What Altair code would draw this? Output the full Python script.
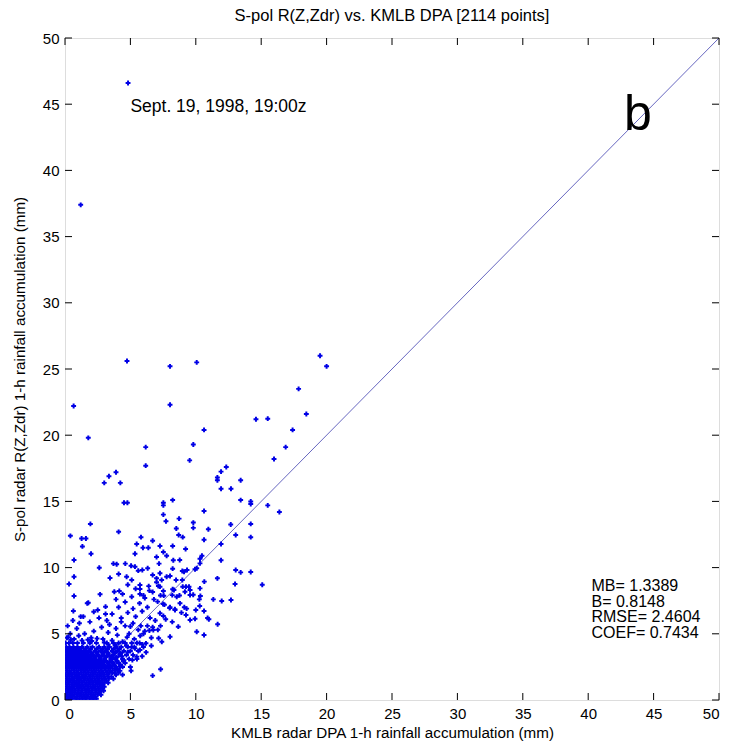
import altair as alt
import pandas as pd

# ---- scattered points (KMLB DPA x, S-pol y), mm ----
dpa_high = [4.82, 1.2, 4.74, 8.03, 10.07, 19.5, 20.0, 0.66, 8.03, 17.86, 1.78, 10.63, 14.6, 15.5,
            17.4, 18.45, 6.17, 9.81, 16.87, 9.53, 15.98, 6.17, 12.33, 11.93, 3.9, 3.36, 11.65,
            11.65, 13.43, 3.0, 4.23, 11.93, 12.69, 4.51, 4.77, 7.52, 7.52, 8.23, 13.43, 14.2, 14.2,
            15.5, 16.39, 10.63, 7.52, 7.72, 8.72, 1.94, 9.81, 9.81, 8.51, 10.96, 12.67, 14.2, 4.1,
            0.41, 13.05, 1.27, 1.6, 5.81, 9.0, 14.2, 10.63, 8.69, 6.7]
spol_high = [46.6, 37.4, 25.6, 25.2, 25.5, 26.0, 25.2, 22.2, 22.3, 23.5, 19.8, 20.4, 21.2, 21.25,
             20.4, 21.6, 19.1, 19.3, 19.1, 18.1, 18.2, 17.7, 17.6, 17.25, 17.2, 16.9, 16.8,
             16.6, 16.6, 16.4, 16.4, 15.96, 15.96, 14.9, 14.9, 14.9, 14.7, 15.1, 15.1, 15.0, 14.8,
             14.7, 14.2, 14.27, 14.0, 13.5, 13.7, 13.3, 13.4, 13.0, 12.95, 12.9, 13.25, 13.3, 12.7,
             12.4, 12.46, 12.2, 12.2, 12.3, 12.3, 12.3, 12.1, 12.46, 12.03]

dpa_mid = [1.33, 1.99, 0.69, 5.48, 6.37, 5.96, 5.35, 7.0, 7.77, 8.28, 7.19, 8.77, 9.22, 10.47,
           11.93, 11.93, 7.26, 8.23, 7.52, 10.32, 3.7, 3.95, 4.61, 5.05, 5.35, 5.6, 5.91, 6.32,
           2.62, 0.31, 0.69, 3.44, 4.1, 4.71, 5.1, 6.7, 7.0, 7.39, 7.77, 9.1, 9.33, 9.94, 10.07,
           10.32, 8.23, 8.97, 7.26, 8.03, 8.49, 8.97, 10.65, 11.65, 13.05, 13.43, 14.2, 13.0,
           15.08, 5.73, 5.73, 5.73, 3.77, 4.15, 2.68, 0.69, 1.78, 0.64, 6.45, 6.7, 7.14, 7.52,
           8.33, 8.54, 9.0, 9.17, 9.48, 9.56, 10.27, 10.63, 11.34, 11.98, 12.69, 11.67, 10.07,
           10.63, 7.08, 7.26, 7.52, 8.03, 8.41, 8.79, 9.12, 9.25, 9.56, 9.94, 8.66, 8.03, 7.16,
           6.75, 6.19, 5.73, 7.31, 6.7, 5.05, 5.15, 5.48, 2.68, 4.2, 3.82, 7.26, 8.23, 9.25,
           9.56, 10.32, 7.3, 7.55, 8.2, 8.75, 9.8, 10.35, 7.5, 8.0, 8.4, 8.9, 9.3, 10.0, 10.3,
           10.9, 7.0, 11.0, 6.1]
spol_mid = [11.6, 11.05, 10.57, 11.78, 11.5, 11.5, 11.05, 10.8, 10.9, 10.55, 10.3, 10.57, 11.4, 10.9,
            10.55, 11.78, 11.63, 11.63, 11.18, 10.67, 10.3, 10.25, 10.3, 10.14, 10.07, 9.77, 9.82, 9.95,
            9.99, 8.76, 9.31, 9.21, 9.52, 9.31, 9.06, 9.44, 9.19, 9.06, 9.31, 9.69, 9.82, 9.87, 9.95,
            10.32, 9.92, 9.74, 9.57, 9.37, 9.06, 9.06, 8.94, 9.19, 9.82, 9.64, 9.67, 8.76,
            8.7, 8.69, 8.38, 8.0, 8.18, 8.23, 7.98, 7.85, 7.35, 6.72, 8.26, 8.16, 8.61, 8.23,
            8.31, 7.8, 8.56, 8.18, 8.56, 7.93, 7.6, 6.72, 7.6, 7.48, 7.55, 5.72, 5.16,
            4.91, 7.43, 6.55, 6.34, 7.0, 6.8, 7.3, 7.0, 6.42, 6.04, 6.14, 5.54, 4.78, 4.66,
            5.29, 4.28, 3.78, 2.32, 1.84, 2.21, 3.02, 3.27, 0.63, 2.52, 2.01, 8.56, 8.36, 8.56,
            8.31, 8.43, 7.9, 7.88, 7.92, 7.9, 7.95, 7.85, 7.25, 6.95, 6.85, 6.6, 6.9, 6.8, 7.1,
            6.2, 8.9, 6.1, 7.7]

# ---- the diagonal band around the dense core ----
dpa_band = [3.6, 4.0, 4.4, 4.9, 5.3, 5.6, 6.0, 6.3, 5.2, 4.6, 3.9, 3.3, 2.8, 2.2, 1.5, 0.9, 0.4,
            0.2, 0.6, 1.2, 1.9, 2.6, 3.2, 3.6, 4.3, 4.8, 5.4, 5.9, 6.5, 6.9, 7.1, 6.6, 5.9, 6.2,
            4.8, 4.5, 4.1, 3.7, 3.5, 4.7, 5.1, 5.5, 3.1, 4.1, 4.6, 5.2, 5.7, 6.3, 6.8, 7.6, 7.7,
            8.2, 3.9, 4.4, 5.1, 6.0, 6.4, 5.4, 4.8, 1.7, 2.2, 3.1, 2.5, 1.1, 3.4, 4.3, 5.0,
            5.8, 6.1, 6.7, 7.3, 2.0, 2.9, 3.3, 1.4,
            4.2, 4.75, 5.35, 5.75, 6.45, 3.85, 4.35, 3.25, 2.45, 1.75, 0.7, 0.15, 1.05, 3.0,
            5.9, 6.6, 7.4, 4.0, 3.4, 2.7, 0.45, 1.3, 0.25, 2.05]
spol_band = [4.5, 4.9, 4.4, 5.0, 4.6, 5.3, 5.0, 5.6, 5.8, 5.6, 5.4, 5.1, 5.5, 5.2, 5.0, 5.4, 5.0,
             5.6, 6.0, 6.3, 5.9, 6.2, 6.0, 6.5, 6.2, 6.6, 6.3, 6.7, 6.2, 6.0, 5.3, 4.7, 4.2, 3.6,
             3.6, 3.0, 2.8, 3.2, 2.6, 4.1, 4.0, 4.3, 7.05, 7.0, 7.4, 6.9, 7.3, 7.0, 7.6, 7.2, 6.1,
             5.9, 7.6, 8.0, 7.8, 7.9, 8.6, 8.4, 8.7, 7.3, 6.67, 6.5, 6.8, 5.8, 5.7, 5.9, 5.55,
             5.6, 5.2, 5.5, 5.6, 4.7, 4.6, 4.2, 6.3,
             3.5, 4.75, 3.9, 4.85, 5.25, 4.15, 3.3, 3.85, 4.65, 4.55, 4.6, 4.7, 4.85, 4.35,
             3.3, 4.1, 4.4, 2.3, 2.1, 1.3, 4.55, 4.5, 4.75, 4.45]

# ---- the solid core: one row of x values per y level ----
core_y = [0.1, 0.4, 0.7, 1.0, 1.3, 1.6, 1.9, 2.2, 2.5, 2.8, 3.1, 3.4, 3.7, 4.0, 4.3]
core_x = [
    [0.05, 0.3, 0.55, 0.85, 1.1, 1.35, 1.6, 1.9, 2.15, 2.4],
    [0.1, 0.35, 0.6, 0.9, 1.15, 1.4, 1.65, 1.95, 2.2, 2.5, 2.75],
    [0.05, 0.3, 0.55, 0.8, 1.05, 1.3, 1.6, 1.85, 2.1, 2.4, 2.7, 2.95],
    [0.1, 0.35, 0.6, 0.9, 1.15, 1.4, 1.7, 1.95, 2.2, 2.5, 2.75, 3.0],
    [0.05, 0.3, 0.6, 0.85, 1.1, 1.35, 1.65, 1.9, 2.15, 2.45, 2.7, 3.0, 3.3],
    [0.1, 0.35, 0.6, 0.9, 1.15, 1.45, 1.7, 1.95, 2.25, 2.5, 2.8, 3.05, 3.35, 3.7],
    [0.05, 0.3, 0.55, 0.85, 1.1, 1.4, 1.65, 1.95, 2.2, 2.5, 2.75, 3.0, 3.3, 3.9, 4.4],
    [0.1, 0.35, 0.65, 0.9, 1.2, 1.45, 1.7, 2.0, 2.25, 2.55, 2.8, 3.1, 3.45, 3.8, 4.2],
    [0.05, 0.3, 0.6, 0.85, 1.1, 1.4, 1.7, 1.95, 2.25, 2.5, 2.8, 3.15, 3.5, 3.9, 4.4, 5.0],
    [0.1, 0.35, 0.65, 0.9, 1.2, 1.45, 1.75, 2.0, 2.3, 2.6, 2.9, 3.3, 3.7, 4.1, 4.6],
    [0.05, 0.3, 0.6, 0.85, 1.15, 1.4, 1.7, 2.0, 2.3, 2.7, 3.05, 3.5, 3.9, 4.4, 4.9, 5.5],
    [0.1, 0.35, 0.65, 0.9, 1.2, 1.5, 1.8, 2.15, 2.5, 2.9, 3.3, 3.7, 4.2, 4.7, 5.2],
    [0.05, 0.3, 0.6, 0.9, 1.2, 1.5, 1.85, 2.3, 2.7, 3.1, 3.6, 4.0, 4.5, 5.0, 5.6],
    [0.1, 0.35, 0.65, 0.95, 1.3, 1.7, 2.1, 2.6, 3.0, 3.4, 3.9, 4.3, 4.8, 5.3, 6.0],
    [0.05, 0.3, 0.6, 0.95, 1.4, 1.9, 2.4, 3.2, 3.7, 4.1, 4.6, 5.1, 5.7],
]
# second, offset pass through the core so the marks close up like the reference
core2_y = [0.25, 0.55, 0.85, 1.15, 1.45, 1.75, 2.05, 2.35, 2.65, 2.95, 3.25, 3.55, 3.85]
core2_x = [
    [0.2, 0.45, 0.7, 0.95, 1.25, 1.5, 1.75, 2.05, 2.3],
    [0.2, 0.45, 0.75, 1.0, 1.25, 1.55, 1.8, 2.05, 2.35, 2.6],
    [0.2, 0.45, 0.7, 1.0, 1.25, 1.5, 1.75, 2.05, 2.3, 2.55, 2.85],
    [0.2, 0.5, 0.75, 1.0, 1.3, 1.55, 1.8, 2.1, 2.35, 2.65, 2.9],
    [0.2, 0.45, 0.7, 1.0, 1.25, 1.5, 1.8, 2.05, 2.3, 2.6, 2.85, 3.15],
    [0.2, 0.5, 0.75, 1.0, 1.3, 1.55, 1.85, 2.1, 2.4, 2.65, 2.95, 3.25, 3.55],
    [0.2, 0.45, 0.7, 1.0, 1.25, 1.55, 1.8, 2.1, 2.35, 2.65, 2.9, 3.2, 3.6, 4.1],
    [0.2, 0.5, 0.75, 1.05, 1.3, 1.6, 1.85, 2.15, 2.4, 2.7, 3.0, 3.3, 3.65, 4.0],
    [0.2, 0.45, 0.75, 1.0, 1.3, 1.55, 1.85, 2.1, 2.4, 2.7, 3.0, 3.35, 3.75, 4.25],
    [0.2, 0.5, 0.8, 1.05, 1.35, 1.6, 1.9, 2.2, 2.5, 2.8, 3.1, 3.5, 3.95, 4.45],
    [0.2, 0.45, 0.75, 1.05, 1.35, 1.65, 1.95, 2.3, 2.7, 3.1, 3.5, 3.95],
    [0.2, 0.5, 0.8, 1.1, 1.4, 1.7, 2.05, 2.45, 2.9, 3.3, 3.8, 4.25],
    [0.2, 0.5, 0.8, 1.15, 1.55, 1.95, 2.4, 2.85, 3.25, 3.7, 4.15],
]

tick_values = [0, 5, 10, 15, 20, 25, 30, 35, 40, 45, 50]
stats_lines = ["MB= 1.3389", "B= 0.8148", "RMSE= 2.4604", "COEF= 0.7434"]

# ---- assemble ----
xs = dpa_high + dpa_mid + dpa_band
ys = spol_high + spol_mid + spol_band
for yv, row in list(zip(core_y, core_x)) + list(zip(core2_y, core2_x)):
    xs += row
    ys += [yv] * len(row)
pts = pd.DataFrame({"dpa": xs, "spol": ys})

W, H = 654, 662
FONT = "Liberation Sans"
sx = alt.Scale(domain=[0, 50], nice=False, zero=False)
sy = alt.Scale(domain=[0, 50], nice=False, zero=False)

xaxis = alt.Axis(
    values=tick_values, title="KMLB radar DPA 1-h rainfall accumulation (mm)",
    ticks=False, domain=False, grid=False, labelFontSize=15, labelColor="black",
    labelFont=FONT, labelPadding=6, titleFont=FONT, titleFontSize=15.2,
    titleFontWeight="normal", titleColor="black", titlePadding=4)
yaxis = alt.Axis(
    values=tick_values, title="S-pol radar R(Z,Zdr) 1-h rainfall accumulation (mm)",
    ticks=False, domain=False, grid=False, labelFontSize=15, labelColor="black",
    labelFont=FONT, labelPadding=6, titleFont=FONT, titleFontSize=15.2,
    titleFontWeight="normal", titleColor="black", titlePadding=15)

scatter = alt.Chart(pts).mark_point(
    shape="cross", filled=True, size=24, color="#0000e6", opacity=1, clip=True
).encode(
    x=alt.X("dpa:Q", scale=sx, axis=xaxis),
    y=alt.Y("spol:Q", scale=sy, axis=yaxis),
)

diag = alt.Chart(pd.DataFrame({"a": [0, 50], "b": [0, 50]})).mark_line(
    color="#4040b0", strokeWidth=0.8
).encode(x=alt.X("a:Q", scale=sx, axis=xaxis), y=alt.Y("b:Q", scale=sy, axis=yaxis))

tdf = pd.DataFrame({"t": tick_values})
tick_len = 7
t_bottom = alt.Chart(tdf).mark_rule(color="black", strokeWidth=1).encode(
    x=alt.X("t:Q", scale=sx, axis=xaxis), y=alt.value(H), y2=alt.value(H - tick_len))
t_top = alt.Chart(tdf).mark_rule(color="black", strokeWidth=1).encode(
    x=alt.X("t:Q", scale=sx, axis=xaxis), y=alt.value(0), y2=alt.value(tick_len))
t_left = alt.Chart(tdf).mark_rule(color="black", strokeWidth=1).encode(
    y=alt.Y("t:Q", scale=sy, axis=yaxis), x=alt.value(0), x2=alt.value(tick_len))
t_right = alt.Chart(tdf).mark_rule(color="black", strokeWidth=1).encode(
    y=alt.Y("t:Q", scale=sy, axis=yaxis), x=alt.value(W), x2=alt.value(W - tick_len))

ann = pd.DataFrame({"x": [5.0], "y": [44.8], "label": ["Sept. 19, 1998, 19:00z"]})
date_txt = alt.Chart(ann).mark_text(
    align="left", baseline="middle", font=FONT, fontSize=17.5, color="black"
).encode(x=alt.X("x:Q", scale=sx, axis=xaxis), y=alt.Y("y:Q", scale=sy, axis=yaxis), text="label:N")

bdf = pd.DataFrame({"x": [43.8], "y": [44.2], "label": ["b"]})
b_txt = alt.Chart(bdf).mark_text(
    align="center", baseline="middle", font=FONT, fontSize=50, color="black"
).encode(x=alt.X("x:Q", scale=sx, axis=xaxis), y=alt.Y("y:Q", scale=sy, axis=yaxis), text="label:N")

sdf = pd.DataFrame({"x": [40.25], "y": [9.2]})
stats_txt = alt.Chart(sdf).mark_text(
    align="left", baseline="top", font=FONT, fontSize=16, lineHeight=15.5, color="black"
).encode(x=alt.X("x:Q", scale=sx, axis=xaxis), y=alt.Y("y:Q", scale=sy, axis=yaxis),
         text=alt.value(stats_lines))

chart = alt.layer(
    diag, scatter, t_bottom, t_top, t_left, t_right, date_txt, b_txt, stats_txt
).properties(
    width=W, height=H,
    title=alt.Title("S-pol R(Z,Zdr) vs. KMLB DPA [2114 points]", font=FONT, fontSize=16.5,
                    fontWeight="normal", color="black", anchor="middle", offset=7),
    autosize=alt.AutoSizeParams(type="none"),
    padding={"left": 65, "top": 38, "right": 17, "bottom": 48},
).configure_view(stroke="black", strokeWidth=1).configure(background="white")

chart.save("out.html", embed_options={"renderer": "svg", "actions": False})
